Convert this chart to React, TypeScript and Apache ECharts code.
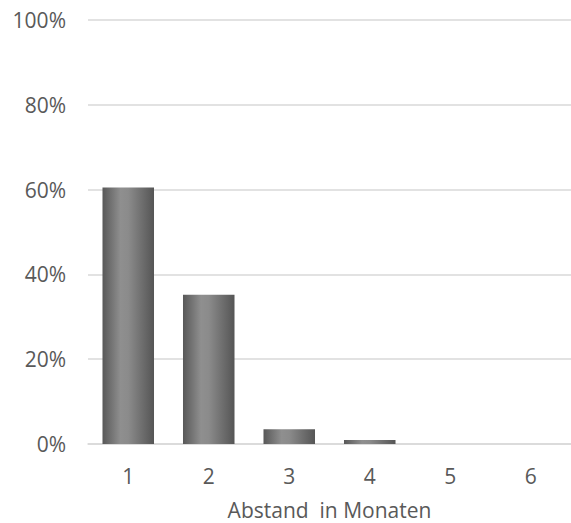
import React, { useEffect, useRef } from "react";
import * as echarts from "echarts";

const categories = ["1", "2", "3", "4", "5", "6"];
const shares = [60.5, 35.2, 3.5, 0.95, 0, 0];
const yTicks = [0, 20, 40, 60, 80, 100];
const axisTitle = "Abstand  in Monaten";

const FONT = "'Open Sans', 'Noto Sans', sans-serif";
const TEXT = "#595959";
const GRID = "#d9d9d9";

export default function App() {
  const ref = useRef<HTMLDivElement>(null);

  useEffect(() => {
    document.body.style.margin = "0";
    const chart = echarts.init(ref.current!, undefined, { renderer: "svg" });
    const barFill = new echarts.graphic.LinearGradient(0, 0, 1, 0, [
      { offset: 0, color: "#585858" },
      { offset: 0.35, color: "#8f8f8f" },
      { offset: 0.5, color: "#8b8b8b" },
      { offset: 1, color: "#555555" },
    ]);
    chart.setOption({
      animation: false,
      grid: {
        left: 88,
        right: 0,
        top: 20,
        bottom: 79,
        containLabel: false,
        outerBoundsMode: "none",
      },
      xAxis: {
        type: "category",
        data: categories,
        axisLine: { lineStyle: { color: GRID, width: 1.5 } },
        axisTick: { show: false },
        axisLabel: { color: TEXT, fontFamily: FONT, fontSize: 21, margin: 21 },
        name: axisTitle,
        nameLocation: "middle",
        nameGap: 55,
        nameTextStyle: { color: TEXT, fontFamily: FONT, fontSize: 21 },
      },
      yAxis: {
        type: "value",
        min: yTicks[0],
        max: yTicks[yTicks.length - 1],
        interval: 20,
        axisLine: { show: false },
        axisTick: { show: false },
        splitLine: { lineStyle: { color: GRID, width: 1.5 } },
        axisLabel: {
          color: TEXT,
          fontFamily: FONT,
          fontSize: 21,
          margin: 22,
          formatter: (v: number) => `${v}%`,
        },
      },
      series: [
        {
          type: "bar",
          data: shares,
          barCategoryGap: "36%",
          itemStyle: { color: barFill },
        },
      ],
    });
    return () => chart.dispose();
  }, []);

  return (
    <div
      ref={ref}
      style={{ position: "absolute", left: 0, top: 0, width: 571, height: 523 }}
    />
  );
}
